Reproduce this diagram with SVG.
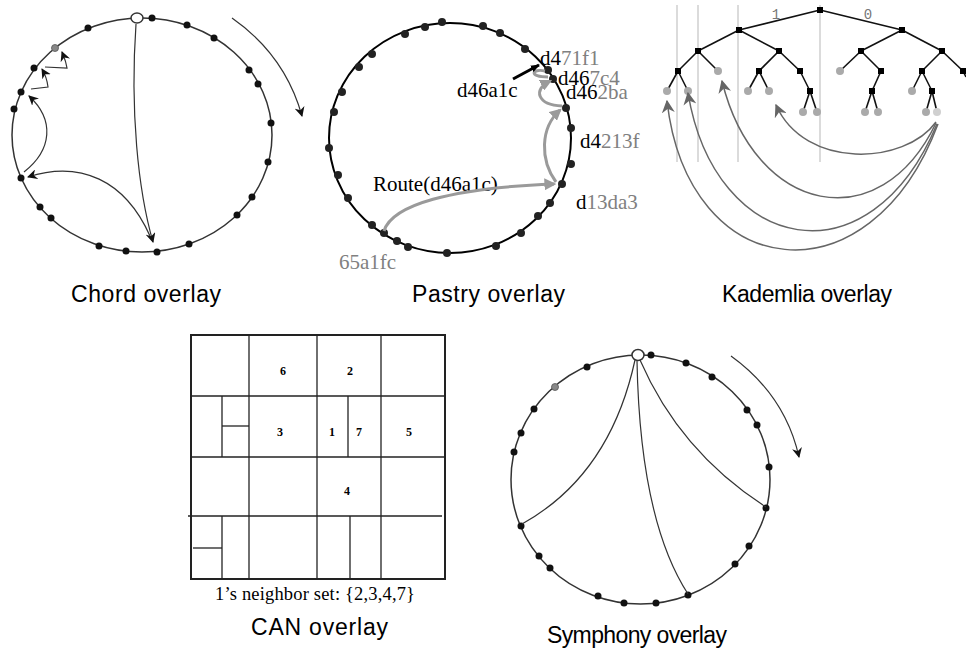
<svg xmlns="http://www.w3.org/2000/svg" width="966" height="654" viewBox="0 0 966 654">
<defs>
<style>
.ring{fill:none;stroke:#333;stroke-width:1.5}
.dot{fill:#111}
.gdot{fill:#888}
.open{fill:#fff;stroke:#333;stroke-width:1.5}
.thin{fill:none;stroke:#333;stroke-width:1.2}
.pgray{fill:none;stroke:#9a9a9a;stroke-width:3}
.kedge{stroke:#111;stroke-width:1.6}
.kvl{stroke:#cfcfcf;stroke-width:1.5}
.karr{fill:none;stroke:#666;stroke-width:1.5}
.ksq{fill:#000}
.kleaf{fill:#aaa}
.can{stroke:#222;stroke-width:1.3}
.lbl{font-family:"Liberation Sans",Arial,sans-serif;font-size:23px;fill:#000}
.ser{font-family:"Liberation Serif","Times New Roman",serif;font-size:21px}
.g{fill:#808080}
.cn{font-family:"Liberation Serif","Times New Roman",serif;font-size:12px;font-weight:bold;text-anchor:middle}
</style>
<marker id="ab" viewBox="0 0 10 10" refX="9" refY="5" markerWidth="10" markerHeight="10" markerUnits="userSpaceOnUse" orient="auto"><path d="M0,0 L10,5 L0,10 L3,5 z" fill="#111"/></marker>
<marker id="ag" viewBox="0 0 10 10" refX="8" refY="5" markerWidth="12" markerHeight="12" markerUnits="userSpaceOnUse" orient="auto"><path d="M0,0 L10,5 L0,10 z" fill="#9a9a9a"/></marker>
<marker id="ak" viewBox="0 0 10 10" refX="9" refY="5" markerWidth="13" markerHeight="13" markerUnits="userSpaceOnUse" orient="auto"><path d="M0,0 L10,5 L0,10 L3,5 z" fill="#666"/></marker>
<marker id="abk" viewBox="0 0 10 10" refX="9" refY="5" markerWidth="9" markerHeight="9" markerUnits="userSpaceOnUse" orient="auto"><path d="M0,1 L10,5 L0,9 z" fill="#000"/></marker>
</defs>
<rect width="966" height="654" fill="#fff"/>

<!-- CHORD -->
<g id="chord">
<ellipse class="ring" cx="142" cy="135" rx="130" ry="117"/>
<g class="dot">
<circle cx="152" cy="18" r="3.5"/><circle cx="187" cy="25" r="3.5"/><circle cx="214" cy="38" r="3.5"/>
<circle cx="249" cy="70" r="3.5"/><circle cx="258" cy="84" r="3.5"/><circle cx="271" cy="123" r="3.5"/>
<circle cx="268" cy="162" r="3.5"/><circle cx="252" cy="197" r="3.5"/><circle cx="237" cy="215" r="3.5"/>
<circle cx="189" cy="244" r="3.5"/><circle cx="157" cy="252" r="3.5"/><circle cx="126" cy="251" r="3.5"/>
<circle cx="99" cy="246" r="3.5"/><circle cx="51" cy="218" r="3.5"/><circle cx="40" cy="207" r="3.5"/>
<circle cx="21" cy="178" r="3.5"/><circle cx="14" cy="109" r="3.5"/><circle cx="21" cy="92" r="3.5"/>
<circle cx="34" cy="68" r="3.5"/><circle cx="88" cy="28" r="3.5"/>
</g>
<circle class="gdot" cx="55" cy="48" r="3.5" stroke="#555" stroke-width="0.8"/>
<ellipse class="open" cx="137" cy="18" rx="6" ry="5"/>
</g>
<g id="chord-edges">
<path class="thin" d="M136,24 C130,110 138,190 153,242" marker-end="url(#ab)"/>
<path class="thin" d="M150,236 C125,180 80,160 28,177" marker-end="url(#ab)"/>
<path class="thin" d="M24,172 C52,150 55,120 29,96" marker-end="url(#ab)"/>
<path class="thin" d="M31,89 L48,87 C47,79 45,74 42,69" marker-end="url(#ab)"/>
<path class="thin" d="M45,67 L67,68 C66,61 64,57 62,52" marker-end="url(#ab)"/>
<path class="thin" d="M232,18 Q285,55 302,116" marker-end="url(#ab)"/>
</g>

<!-- PASTRY -->
<g id="pastry">
<ellipse cx="450" cy="138" rx="121" ry="115" fill="none" stroke="#000" stroke-width="2"/>
<g fill="#222">
<circle cx="442" cy="22" r="4"/><circle cx="425" cy="27" r="4"/><circle cx="405" cy="34" r="4"/>
<circle cx="372" cy="54" r="4"/><circle cx="359" cy="67" r="4"/><circle cx="342" cy="92" r="4"/>
<circle cx="334" cy="112" r="4"/><circle cx="329" cy="148" r="4"/><circle cx="338" cy="175" r="4"/>
<circle cx="348" cy="198" r="4"/><circle cx="372" cy="225" r="4"/><circle cx="384" cy="233" r="4"/>
<circle cx="397" cy="241" r="4"/><circle cx="408" cy="247" r="4"/><circle cx="447" cy="253" r="4"/>
<circle cx="496" cy="246" r="4"/><circle cx="521" cy="233" r="4"/><circle cx="538" cy="216" r="4"/>
<circle cx="550" cy="203" r="4"/><circle cx="562" cy="184" r="4"/><circle cx="571" cy="164" r="4"/>
<circle cx="571" cy="128" r="4"/><circle cx="566" cy="108" r="4"/><circle cx="553" cy="79" r="4"/>
<circle cx="548" cy="70" r="4"/><circle cx="525" cy="49" r="4"/><circle cx="500" cy="33" r="4"/>
<circle cx="483" cy="26" r="4"/>
</g>
<g class="ser">
<text x="540" y="65"><tspan>d4</tspan><tspan class="g">71f1</tspan></text>
<text x="558" y="85"><tspan>d46</tspan><tspan class="g">7c4</tspan></text>
<text x="566" y="99"><tspan>d46</tspan><tspan class="g">2ba</tspan></text>
<text x="580" y="148"><tspan>d4</tspan><tspan class="g">213f</tspan></text>
<text x="576" y="209"><tspan>d</tspan><tspan class="g">13da3</tspan></text>
<text x="457" y="97">d46a1c</text>
<text x="373" y="191">Route(d46a1c)</text>
<text x="339" y="269" class="g">65a1fc</text>
</g>
</g>
<g id="pastry-edges">
<path class="pgray" d="M384,231 C392,205 450,188 554,184" marker-end="url(#ag)"/>
<path class="pgray" d="M556,182 C540,160 540,128 560,110" marker-end="url(#ag)"/>
<path class="pgray" d="M562,106 C538,105 532,90 550,81" marker-end="url(#ag)"/>
<path class="pgray" d="M548,77 C528,77 532,68 545,71" stroke-width="2.5"/>
<line x1="513" y1="79" x2="539" y2="65" stroke="#000" stroke-width="3" marker-end="url(#abk)"/>
</g>

<!-- KADEMLIA -->
<g id="kademlia">
<g class="kvl">
<line x1="677" y1="5" x2="677" y2="162"/><line x1="698" y1="5" x2="698" y2="162"/>
<line x1="738" y1="5" x2="738" y2="162"/><line x1="820" y1="5" x2="820" y2="162"/>
</g>
<g class="kedge">
<line x1="820" y1="10" x2="739" y2="30"/><line x1="820" y1="10" x2="902" y2="30"/>
<line x1="739" y1="30" x2="698" y2="51"/><line x1="739" y1="30" x2="779" y2="51"/>
<line x1="902" y1="30" x2="861" y2="51"/><line x1="902" y1="30" x2="942" y2="51"/>
<line x1="698" y1="51" x2="678" y2="71"/><line x1="698" y1="51" x2="718" y2="71"/>
<line x1="779" y1="51" x2="759" y2="71"/><line x1="779" y1="51" x2="800" y2="71"/>
<line x1="861" y1="51" x2="840" y2="71"/><line x1="861" y1="51" x2="881" y2="71"/>
<line x1="942" y1="51" x2="922" y2="71"/><line x1="942" y1="51" x2="963" y2="71"/>
<line x1="678" y1="71" x2="667" y2="91"/><line x1="678" y1="71" x2="688" y2="91"/>
<line x1="759" y1="71" x2="748" y2="91"/><line x1="759" y1="71" x2="769" y2="91"/>
<line x1="800" y1="71" x2="810" y2="91"/><line x1="881" y1="71" x2="872" y2="91"/>
<line x1="922" y1="71" x2="912" y2="91"/><line x1="922" y1="71" x2="932" y2="91"/>
<line x1="963" y1="71" x2="966" y2="77"/>
<line x1="810" y1="91" x2="803" y2="112"/><line x1="810" y1="91" x2="817" y2="112"/>
<line x1="872" y1="91" x2="865" y2="112"/><line x1="872" y1="91" x2="878" y2="112"/>
<line x1="932" y1="91" x2="926" y2="112"/><line x1="932" y1="91" x2="937" y2="112"/>
</g>
<g class="ksq">
<rect x="817" y="7" width="6" height="6"/>
<rect x="736" y="27" width="6" height="6"/><rect x="899" y="27" width="6" height="6"/>
<rect x="695" y="48" width="6" height="6"/><rect x="776" y="48" width="6" height="6"/>
<rect x="858" y="48" width="6" height="6"/><rect x="939" y="48" width="6" height="6"/>
<rect x="675" y="68" width="6" height="6"/><rect x="756" y="68" width="6" height="6"/>
<rect x="797" y="68" width="6" height="6"/><rect x="878" y="68" width="6" height="6"/>
<rect x="919" y="68" width="6" height="6"/><rect x="960" y="68" width="6" height="6"/>
<rect x="807" y="88" width="6" height="6"/><rect x="869" y="88" width="6" height="6"/>
<rect x="929" y="88" width="6" height="6"/>
</g>
<g class="kleaf">
<circle cx="718" cy="71" r="4"/><circle cx="840" cy="71" r="4"/>
<circle cx="667" cy="91" r="4"/><circle cx="688" cy="91" r="4"/><circle cx="748" cy="91" r="4"/>
<circle cx="769" cy="91" r="4"/><circle cx="912" cy="91" r="4"/>
<circle cx="803" cy="112" r="4"/><circle cx="817" cy="112" r="4"/><circle cx="865" cy="112" r="4"/>
<circle cx="878" cy="112" r="4"/><circle cx="926" cy="112" r="4"/>
<circle cx="937" cy="112" r="4" fill="#d0d0d0"/>
</g>
<text x="776" y="19" font-family="'Liberation Mono','DejaVu Sans Mono',monospace" font-size="14" fill="#777" text-anchor="middle">1</text>
<text x="868" y="19" font-family="'Liberation Mono','DejaVu Sans Mono',monospace" font-size="14" fill="#777" text-anchor="middle">0</text>
</g>
<g id="kademlia-edges">
<path class="karr" d="M936,122 C905,165 805,170 776,105" marker-end="url(#ak)"/>
<path class="karr" d="M936,123 C880,240 755,215 722,81" marker-end="url(#ak)"/>
<path class="karr" d="M937,124 C870,285 715,255 688,93" marker-end="url(#ak)"/>
<path class="karr" d="M938,124 C870,305 688,285 667,101" marker-end="url(#ak)"/>
</g>

<!-- CAN -->
<g id="can">
<rect x="191" y="335" width="254" height="244" fill="none" stroke="#222" stroke-width="2"/>
<g class="can">
<line x1="249" y1="335" x2="249" y2="579"/><line x1="317" y1="335" x2="317" y2="579"/>
<line x1="381" y1="335" x2="381" y2="579"/>
<line x1="191" y1="396" x2="445" y2="396"/><line x1="191" y1="457" x2="445" y2="457"/>
<line x1="188" y1="516" x2="442" y2="516"/>
<line x1="222" y1="396" x2="222" y2="457"/><line x1="222" y1="426" x2="249" y2="426"/>
<line x1="348" y1="396" x2="348" y2="457"/>
<line x1="222" y1="516" x2="222" y2="579"/><line x1="193" y1="548" x2="222" y2="548"/>
<line x1="350" y1="516" x2="350" y2="579"/>
</g>
<g class="cn">
<text x="283" y="375">6</text><text x="350" y="375">2</text>
<text x="280" y="436">3</text><text x="332" y="436">1</text><text x="359" y="436">7</text>
<text x="409" y="436">5</text><text x="347" y="495">4</text>
</g>
<text x="215" y="600" textLength="200" font-family="'Liberation Serif','Times New Roman',serif" font-size="18.5">1’s neighbor set: {2,3,4,7}</text>
</g>

<!-- SYMPHONY -->
<g id="symphony">
<ellipse class="ring" cx="640.5" cy="479.5" rx="129.5" ry="124.5"/>
<g class="dot">
<circle cx="651" cy="355" r="3.5"/><circle cx="686" cy="363" r="3.5"/><circle cx="712" cy="377" r="3.5"/>
<circle cx="747" cy="410" r="3.5"/><circle cx="757" cy="425" r="3.5"/><circle cx="769" cy="467" r="3.5"/>
<circle cx="766" cy="508" r="3.5"/><circle cx="749" cy="546" r="3.5"/><circle cx="735" cy="564" r="3.5"/>
<circle cx="688" cy="595" r="3.5"/><circle cx="656" cy="603" r="3.5"/><circle cx="624" cy="603" r="3.5"/>
<circle cx="598" cy="596" r="3.5"/><circle cx="550" cy="568" r="3.5"/><circle cx="539" cy="556" r="3.5"/>
<circle cx="521" cy="526" r="3.5"/><circle cx="514" cy="452" r="3.5"/><circle cx="521" cy="433" r="3.5"/>
<circle cx="534" cy="409" r="3.5"/><circle cx="587" cy="367" r="3.5"/>
</g>
<circle class="gdot" cx="555" cy="387" r="3.5" stroke="#555" stroke-width="0.8"/>
<ellipse class="open" cx="638" cy="355" rx="6" ry="5.5"/>
</g>
<g id="symphony-edges">
<path class="thin" d="M635,360 Q610,475 522,524"/>
<path class="thin" d="M637,361 Q640,520 688,594"/>
<path class="thin" d="M640,360 Q680,452 766,507"/>
<path class="thin" d="M731,356 Q785,395 799,457" marker-end="url(#ab)"/>
</g>

<!-- Labels -->
<g id="labels" class="lbl">
<text x="71" y="302" textLength="150">Chord overlay</text>
<text x="412" y="302" textLength="153">Pastry overlay</text>
<text x="722" y="302" textLength="170">Kademlia overlay</text>
<text x="251" y="635" textLength="137">CAN overlay</text>
<text x="547" y="643" textLength="180">Symphony overlay</text>
</g>
</svg>
